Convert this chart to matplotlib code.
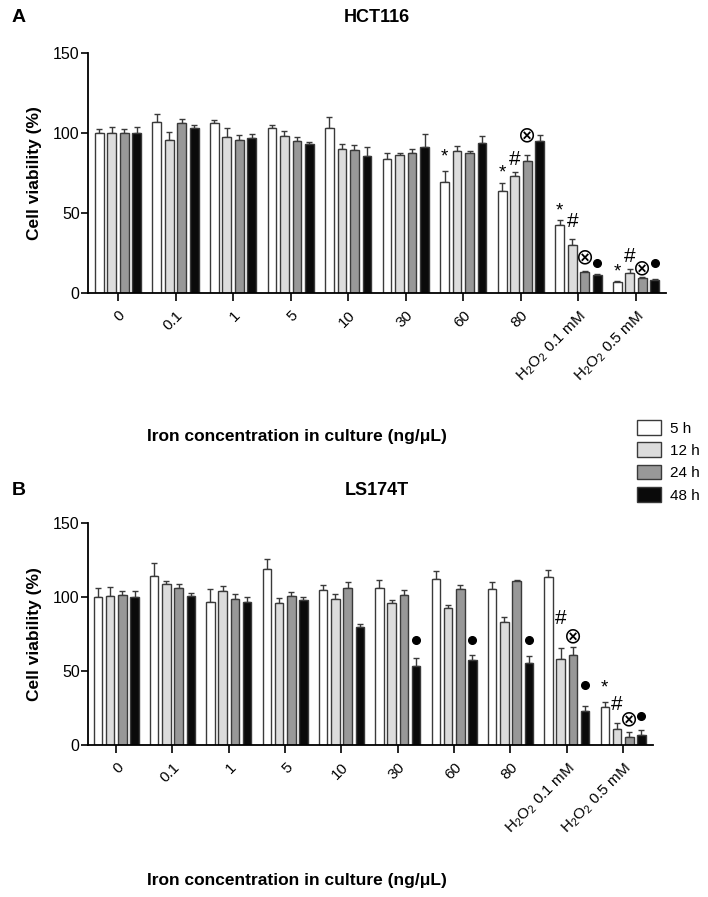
import matplotlib
matplotlib.use("Agg")
import matplotlib.pyplot as plt
import numpy as np
from matplotlib.patches import Patch

plt.rcParams['font.family'] = ['Liberation Sans', 'DejaVu Sans']
plt.rcParams['mathtext.fontset'] = 'custom'
plt.rcParams['mathtext.rm'] = 'Liberation Sans'
plt.rcParams['mathtext.default'] = 'regular'

# ---------------- data ----------------
categories = ['0', '0.1', '1', '5', '10', '30', '60', '80',
              'H$_2$O$_2$ 0.1 mM', 'H$_2$O$_2$ 0.5 mM']
series = ['5 h', '12 h', '24 h', '48 h']
colors = ['#ffffff', '#dcdcdc', '#989898', '#0a0a0a']

# Panel A: HCT116
a_5h  = [100, 106.7, 106, 103.3, 103.3, 83.5, 69.2, 63.7, 42.5, 7.0]
a_12h = [100, 95.4, 97.3, 97.9, 89.8, 86.0, 88.5, 72.9, 30.0, 12.7]
a_24h = [100, 106.0, 95.8, 94.8, 89.2, 87.3, 87.3, 82.7, 13.1, 9.4]
a_48h = [100, 103.0, 96.9, 93.3, 85.4, 91.5, 94.0, 94.8, 11.3, 8.1]
a_5h_err  = [2.5, 5.0, 2.0, 1.5, 6.5, 4.2, 6.8, 5.3, 3.3, 0.5]
a_12h_err = [4.0, 5.5, 6.0, 3.5, 3.5, 1.7, 3.5, 2.7, 4.0, 2.0]
a_24h_err = [2.5, 2.5, 2.7, 2.5, 3.0, 3.0, 1.7, 3.8, 0.5, 0.6]
a_48h_err = [3.5, 2.0, 2.7, 1.3, 5.8, 7.7, 4.0, 4.2, 0.3, 0.4]
# annotations: (group, series, symbol, y)
a_marks = [(6, 0, '*', 85), (7, 0, '*', 75), (7, 1, '#', 83.5), (7, 2, '⊗', 98.7),
           (8, 0, '*', 51), (8, 1, '#', 44.6), (8, 2, '⊗', 22), (8, 3, '●', 19),
           (9, 0, '*', 13), (9, 1, '#', 23), (9, 2, '⊗', 15.2), (9, 3, '●', 19)]

# Panel B: LS174T
b_5h  = [100, 113.9, 96.3, 118.9, 104.4, 105.8, 112.1, 105.3, 113.7, 25.5]
b_12h = [100.5, 108.7, 104.2, 96.1, 98.6, 96.1, 92.7, 83.2, 58.2, 11.0]
b_24h = [101.2, 106.0, 98.8, 100.6, 105.8, 101.5, 105.5, 110.7, 60.9, 5.6]
b_48h = [99.8, 100.4, 96.5, 98.3, 79.6, 53.7, 57.7, 55.7, 23.2, 6.8]
b_5h_err  = [6.0, 8.8, 8.8, 7.1, 3.6, 5.6, 5.4, 5.0, 4.5, 3.6]
b_12h_err = [6.0, 1.8, 3.4, 3.1, 3.1, 2.0, 1.6, 3.4, 7.4, 3.7]
b_24h_err = [2.8, 3.1, 2.9, 3.1, 4.0, 3.1, 2.3, 0.9, 5.6, 3.2]
b_48h_err = [4.0, 2.6, 3.4, 1.6, 2.0, 5.2, 3.0, 4.3, 3.4, 3.1]
b_marks = [(5, 3, '●', 70.8), (6, 3, '●', 70.8), (7, 3, '●', 70.8),
           (8, 1, '#', 85.7), (8, 2, '⊗', 73.7), (8, 3, '●', 40.4),
           (9, 0, '*', 38.7), (9, 1, '#', 27.5), (9, 2, '⊗', 17.1), (9, 3, '●', 19.8)]

yticks = [0, 50, 100, 150]
xlabel = 'Iron concentration in culture (ng/μL)'
ylabel = 'Cell viability (%)'

# ---------------- figure ----------------
W, H = 708, 897
fig = plt.figure(figsize=(W / 100, H / 100), dpi=100)

def px_axes(l, r, t, b):
    return fig.add_axes([l / W, 1 - b / H, (r - l) / W, (b - t) / H])

edge = '#3a3a3a'
bw = 0.152
step = 0.217

def draw_panel(ax, vals, errs, marks, xlim):
    x = np.arange(len(categories))
    for i, (v, e) in enumerate(zip(vals, errs)):
        xs = x + (i - 1.5) * step
        ax.bar(xs, v, width=bw, color=colors[i], edgecolor=edge, linewidth=1.0, zorder=2)
        ax.errorbar(xs, v, yerr=[np.zeros(len(e)), e], fmt='none', ecolor=edge,
                    elinewidth=1.0, capsize=2.3, capthick=1.0, zorder=1)
    for g, s, sym, y in marks:
        xx = g + (s - 1.5) * step
        if sym == '●':
            ax.plot([xx], [y], 'o', color='black', markersize=5.5, zorder=3, clip_on=False)
        elif sym == '⊗':
            ax.text(xx, y, sym, ha='center', va='center', fontsize=15.5,
                    family=['DejaVu Sans'], zorder=3)
        elif sym == '*':
            ax.text(xx, y, sym, ha='center', va='center', fontsize=13.5, zorder=3)
        else:
            ax.text(xx, y, sym, ha='center', va='center', fontsize=15, zorder=3)
    ax.set_xlim(*xlim)
    ax.set_ylim(0, 150)
    ax.set_yticks(yticks)
    ax.set_xticks(x)
    ax.set_xticklabels(categories, rotation=45, ha='right', va='top',
                       rotation_mode='anchor', fontsize=11)
    ax.tick_params(axis='y', labelsize=11.5, length=5, width=1.2, pad=1)
    ax.tick_params(axis='x', length=6, width=1.2, pad=5)
    for sp in ['top', 'right']:
        ax.spines[sp].set_visible(False)
    for sp in ['left', 'bottom']:
        ax.spines[sp].set_linewidth(1.3)

axA = px_axes(88, 666, 53, 293)
draw_panel(axA, [a_5h, a_12h, a_24h, a_48h], [a_5h_err, a_12h_err, a_24h_err, a_48h_err],
           a_marks, (-0.52, 9.52))
axB = px_axes(88, 653, 523, 745)
draw_panel(axB, [b_5h, b_12h, b_24h, b_48h], [b_5h_err, b_12h_err, b_24h_err, b_48h_err],
           b_marks, (-0.5, 9.53))

for ax in (axA, axB):
    ax.set_ylabel(ylabel, fontsize=12.5, fontweight='bold', labelpad=8)

fig.text(12 / W, 1 - 18 / H, 'A', fontsize=14, fontweight='bold', va='center', ha='left')
fig.text(377 / W, 1 - 18 / H, 'HCT116', fontsize=13, fontweight='bold', va='center', ha='center')
fig.text(12 / W, 1 - 490 / H, 'B', fontsize=14, fontweight='bold', va='center', ha='left')
fig.text(377 / W, 1 - 490 / H, 'LS174T', fontsize=13, fontweight='bold', va='center', ha='center')
fig.text(297 / W, 1 - 436 / H, xlabel, fontsize=12.5, fontweight='bold', va='center', ha='center')
fig.text(297 / W, 1 - 880 / H, xlabel, fontsize=12.5, fontweight='bold', va='center', ha='center')

handles = [Patch(facecolor=c, edgecolor=edge, linewidth=1.0) for c in colors]
fig.legend(handles, series, loc='upper left', bbox_to_anchor=(637 / W, 1 - 420 / H),
           frameon=False, fontsize=11, handlelength=1.6, handleheight=1.1,
           labelspacing=0.45, handletextpad=0.55, borderpad=0, borderaxespad=0)

fig.savefig('out.png', dpi=100)
